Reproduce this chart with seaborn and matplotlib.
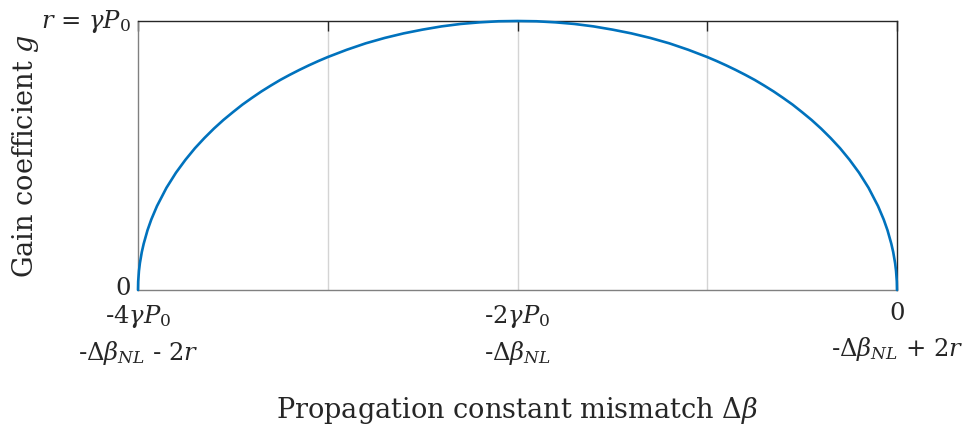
import matplotlib
matplotlib.use("Agg")
import matplotlib.pyplot as plt
import matplotlib.transforms as mtransforms
import seaborn as sns
import pandas as pd

# Normalised gain curve: detuning (units of gamma*P0) and gain (units of r)
detuning = [-4.0, -3.999, -3.995, -3.99, -3.98, -3.97, -3.95, -3.93, -3.9, -3.85,
            -3.8, -3.75, -3.7, -3.65, -3.6, -3.55, -3.5, -3.45, -3.4, -3.35,
            -3.3, -3.25, -3.2, -3.15, -3.1, -3.05, -3.0, -2.9, -2.8, -2.7,
            -2.6, -2.5, -2.4, -2.3, -2.2, -2.1, -2.0, -1.9, -1.8, -1.7,
            -1.6, -1.5, -1.4, -1.3, -1.2, -1.1, -1.0, -0.95, -0.9, -0.85,
            -0.8, -0.75, -0.7, -0.65, -0.6, -0.55, -0.5, -0.45, -0.4, -0.35,
            -0.3, -0.25, -0.2, -0.15, -0.1, -0.07, -0.05, -0.03, -0.02, -0.01,
            -0.005, -0.001, 0.0]
gain = [0.0, 0.032, 0.071, 0.100, 0.141, 0.172, 0.222, 0.262, 0.312, 0.380,
        0.436, 0.484, 0.527, 0.565, 0.600, 0.632, 0.661, 0.689, 0.714, 0.738,
        0.760, 0.781, 0.800, 0.818, 0.835, 0.851, 0.866, 0.893, 0.917, 0.937,
        0.954, 0.968, 0.980, 0.989, 0.995, 0.999, 1.0, 0.999, 0.995, 0.989,
        0.980, 0.968, 0.954, 0.937, 0.917, 0.893, 0.866, 0.851, 0.835, 0.818,
        0.800, 0.781, 0.760, 0.738, 0.714, 0.689, 0.661, 0.632, 0.600, 0.565,
        0.527, 0.484, 0.436, 0.380, 0.312, 0.262, 0.222, 0.172, 0.141, 0.100,
        0.071, 0.032, 0.0]

xtick_pos = [-4, -3, -2, -1, 0]
xtick_labels = ["-4$\\gamma P_0$\n-$\\Delta\\beta_{NL}$ - 2$r$", "",
                "-2$\\gamma P_0$\n-$\\Delta\\beta_{NL}$", "",
                "0\n-$\\Delta\\beta_{NL}$ + 2$r$"]
ytick_pos = [0, 1]
ytick_labels = ["0", "$r$ = $\\gamma P_0$"]

sns.set_theme(style="white")
plt.rcParams["font.family"] = ["DejaVu Serif"]
plt.rcParams["mathtext.fontset"] = "dejavuserif"

df = pd.DataFrame({"detuning": detuning, "gain": gain})

fig = plt.figure(figsize=(9.73, 4.36), dpi=100)
ax = fig.add_axes([138 / 973, 1 - 290 / 436, (897 - 138) / 973, (290 - 21) / 436])

for xv in xtick_pos[1:-1]:
    ax.axvline(xv, color="#d4d4d4", lw=1.0, zorder=0)

sns.lineplot(data=df, x="detuning", y="gain", ax=ax, color="#0072BD",
             lw=1.9, zorder=3, clip_on=False)

ax.set_xlim(-4, 0)
ax.set_ylim(0, 1)
ax.set_xticks(xtick_pos)
ax.set_xticklabels(xtick_labels, fontsize=17.5, color="#262626", linespacing=1.45)
ax.set_yticks(ytick_pos)
ax.set_yticklabels(ytick_labels, fontsize=17.5, color="#262626")
ax.tick_params(axis="x", direction="in", length=7, width=1.0, color="#262626",
               top=True, pad=9)
ax.tick_params(axis="y", direction="in", length=0, pad=5)

# lift the y tick labels slightly so the lower one clears the x labels
ylabels = ax.get_yticklabels()
ylabels[0].set_transform(ylabels[0].get_transform()
                         + mtransforms.ScaledTranslation(0, 4 / 100, fig.dpi_scale_trans))
ylabels[1].set_transform(ylabels[1].get_transform()
                         + mtransforms.ScaledTranslation(0, 3 / 100, fig.dpi_scale_trans))

for side in ["top", "right"]:
    ax.spines[side].set_color("#262626")
for side in ["left", "bottom"]:
    ax.spines[side].set_color("#808080")
for s in ax.spines.values():
    s.set_linewidth(1.0)

ax.set_xlabel("Propagation constant mismatch $\\Delta\\beta$", fontsize=19.5,
              color="#262626", labelpad=20)
ax.set_ylabel("Gain coefficient $g$", fontsize=19.5, color="#262626")
ax.yaxis.set_label_coords(-0.128, 0.5)

fig.savefig("out.png", dpi=100)
